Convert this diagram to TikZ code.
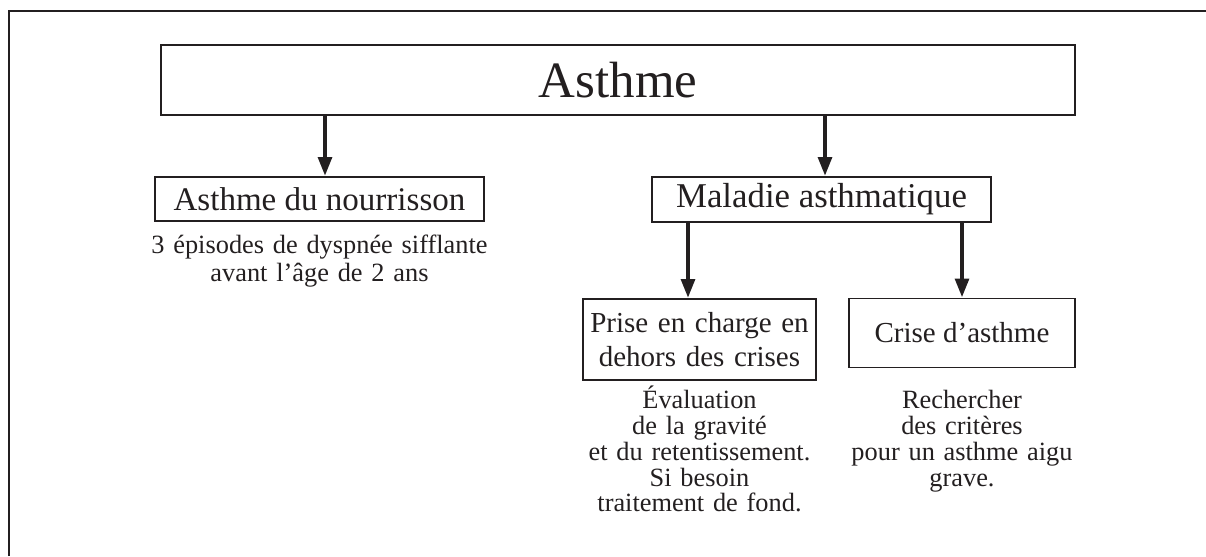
\documentclass[tikz,border=0pt]{standalone}
\usepackage{fontspec}
\setmainfont{Liberation Serif}
\usetikzlibrary{arrows.meta,positioning}
\definecolor{ink}{HTML}{231F20}

\begin{document}
\begin{tikzpicture}[x=0.02cm,y=-0.02cm,>={Triangle[length=11pt,width=7.5pt]},
    box/.style={draw=ink,line width=0.7pt,inner sep=0pt,text=ink},
    note/.style={text=ink,align=center,inner sep=0pt},
    fleche/.style={->,draw=ink,fill=ink,line width=2.8pt}]
    \useasboundingbox (0,0) rectangle (1206,556);
    % cadre ouvert
    \draw[ink,line width=1.1pt] (9,556) -- (9,11) -- (1206,11);
    % boites
    \node[box,minimum width=18.28cm,minimum height=1.4cm,font=\fontsize{29}{34}\selectfont] (asthme) at (618,80) {Asthme};
    \node[box,minimum width=6.58cm,minimum height=0.88cm,font=\fontsize{18.8}{22}\selectfont] (nour) at (319.5,199) {Asthme du nourrisson};
    \node[box,minimum width=6.78cm,minimum height=0.9cm,font=\fontsize{19.8}{23}\selectfont] (mal) at (821.5,199.5) {Maladie asthmatique};
    \node[box,minimum width=4.66cm,minimum height=1.62cm,text width=4.66cm,align=center,font=\fontsize{16.5}{19}\selectfont] (prise) at (699.5,339.5) {Prise en charge en\\dehors des crises};
    \node[box,minimum width=4.52cm,minimum height=1.38cm,font=\fontsize{16.5}{19}\selectfont] (crise) at (962,333) {Crise d'asthme};
    % textes
    \node[note,below=0.26cm of nour,text width=8cm,font=\fontsize{15}{15.9}\selectfont] (nourtxt) {3 épisodes de dyspnée sifflante\\avant l'âge de 2 ans};
    \node[note,below=0.1cm of prise,text width=5.2cm,font=\fontsize{15}{14.7}\selectfont] (prisetxt) {Évaluation\\de la gravité\\et du retentissement.\\Si besoin\\traitement de fond.};
    \node[note,anchor=north,text width=5.2cm,font=\fontsize{15}{14.7}\selectfont] (crisetxt) at (prisetxt.north -| crise) {\vphantom{É}Rechercher\\des critères\\pour un asthme aigu\\grave.};
    % fleches
    \draw[fleche] (asthme.south -| 325,0) -- (nour.north -| 325,0);
    \draw[fleche] (asthme.south -| 825,0) -- (mal.north -| 825,0);
    \draw[fleche] (mal.south -| 688,0) -- (prise.north -| 688,0);
    \draw[fleche] (mal.south -| crise.north) -- (crise.north);
\end{tikzpicture}
\end{document}
